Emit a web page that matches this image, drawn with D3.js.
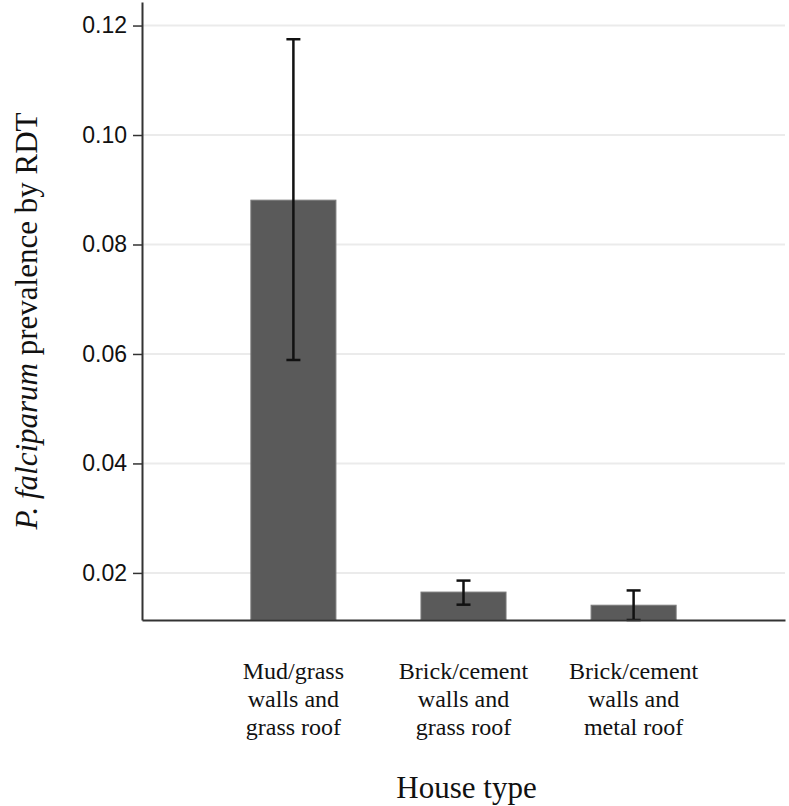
<!DOCTYPE html>
<html>
<head>
<meta charset="utf-8">
<script src="https://cdn.jsdelivr.net/npm/d3@7"></script>
<style>
  body { margin: 0; background: #fff; }
  svg { display: block; }
</style>
</head>
<body>
<script>
// data
const categories = ['mud', 'brickGrass', 'brickMetal']
const categoryLabels = [
  ['Mud/grass', 'walls and', 'grass roof'],
  ['Brick/cement', 'walls and', 'grass roof'],
  ['Brick/cement', 'walls and', 'metal roof']
]
const prevalence = [0.0881, 0.0165, 0.0141]
const ciLower = [0.0589, 0.0142, 0.0114]
const ciUpper = [0.1175, 0.0186, 0.0168]
const yTicks = [0.02, 0.04, 0.06, 0.08, 0.10, 0.12]

const data = categories.map((c, i) => ({
  key: c, label: categoryLabels[i], value: prevalence[i], lo: ciLower[i], hi: ciUpper[i]
}))

const W = 789, H = 806
const serif = '"Liberation Serif", "Times New Roman", serif'
const svg = d3.select('body').append('svg')
  .attr('width', W)
  .attr('height', H)

const x0 = 142, x1 = 785, yBottom = 620, yTop = 2

const xScale = d3.scaleBand()
  .domain(categories)
  .range([x0, x1])
  .paddingInner(0.5)
  .paddingOuter(0.64)

const yScale = d3.scaleLinear()
  .domain([0.0114, 0.1243])
  .range([yBottom, yTop])

// gridlines
svg.append('g')
  .selectAll('line')
  .data(yTicks)
  .join('line')
  .attr('x1', x0)
  .attr('x2', x1)
  .attr('y1', d => yScale(d))
  .attr('y2', d => yScale(d))
  .attr('stroke', '#ebebeb')
  .attr('stroke-width', 2)

// bars
svg.append('g')
  .selectAll('rect')
  .data(data)
  .join('rect')
  .attr('x', d => xScale(d.key))
  .attr('width', xScale.bandwidth())
  .attr('y', d => yScale(d.value))
  .attr('height', d => yScale(yScale.domain()[0]) - yScale(d.value))
  .attr('fill', '#5a5a5a')
  .attr('stroke', '#7a7a7a')
  .attr('stroke-width', 1)

// error bars
const capW = 14
const err = svg.append('g')
  .attr('stroke', '#111')
  .attr('stroke-width', 2.5)
const cx = d => xScale(d.key) + xScale.bandwidth() / 2
err.selectAll('.stem')
  .data(data)
  .join('line')
  .attr('class', 'stem')
  .attr('x1', cx).attr('x2', cx)
  .attr('y1', d => yScale(d.lo))
  .attr('y2', d => yScale(d.hi))
err.selectAll('.capTop')
  .data(data)
  .join('line')
  .attr('class', 'capTop')
  .attr('x1', d => cx(d) - capW / 2).attr('x2', d => cx(d) + capW / 2)
  .attr('y1', d => yScale(d.hi)).attr('y2', d => yScale(d.hi))
err.selectAll('.capBot')
  .data(data)
  .join('line')
  .attr('class', 'capBot')
  .attr('x1', d => cx(d) - capW / 2).attr('x2', d => cx(d) + capW / 2)
  .attr('y1', d => yScale(d.lo)).attr('y2', d => yScale(d.lo))

// y axis
const yAxis = d3.axisLeft(yScale)
  .tickValues(yTicks)
  .tickFormat(d3.format('.2f'))
  .tickSize(9)
  .tickSizeOuter(0)
  .tickPadding(6)
const gy = svg.append('g')
  .attr('transform', `translate(${x0},0)`)
  .call(yAxis)
gy.select('.domain').attr('stroke', '#333').attr('stroke-width', 2)
gy.selectAll('.tick line').attr('stroke', '#333').attr('stroke-width', 1.5)
gy.selectAll('.tick text')
  .attr('font-family', '"Liberation Sans", Arial, sans-serif')
  .attr('font-size', 23)
  .attr('fill', '#111')

// x axis baseline
const xAxis = d3.axisBottom(xScale)
  .tickSize(0)
  .tickSizeOuter(0)
  .tickFormat('')
const gx = svg.append('g')
  .attr('transform', `translate(0,${yBottom})`)
  .call(xAxis)
gx.select('.domain').attr('stroke', '#333').attr('stroke-width', 2)

// category labels
const labels = svg.append('g')
  .attr('text-anchor', 'middle')
data.forEach(d => {
  const t = labels.append('text')
    .attr('x', cx(d))
    .attr('y', 679)
    .attr('font-family', serif)
    .attr('font-size', 24)
    .attr('fill', '#111')
  d.label.forEach((line, i) => {
    t.append('tspan')
      .attr('x', cx(d))
      .attr('dy', i === 0 ? 0 : 28)
      .attr('font-family', serif)
      .text(line)
  })
})

// axis titles
svg.append('text')
  .attr('x', (x0 + x1) / 2 + 3)
  .attr('y', 798)
  .attr('text-anchor', 'middle')
  .attr('font-family', serif)
  .attr('font-size', 31)
  .attr('fill', '#111')
  .text('House type')

const yTitle = svg.append('text')
  .attr('transform', 'translate(37,321) rotate(-90)')
  .attr('text-anchor', 'middle')
  .attr('font-family', serif)
  .attr('font-size', 31)
  .attr('fill', '#111')
yTitle.append('tspan').attr('font-style', 'italic').attr('font-family', serif).text('P. falciparum')
yTitle.append('tspan').attr('font-family', serif).text(' prevalence by RDT')
</script>
</body>
</html>
